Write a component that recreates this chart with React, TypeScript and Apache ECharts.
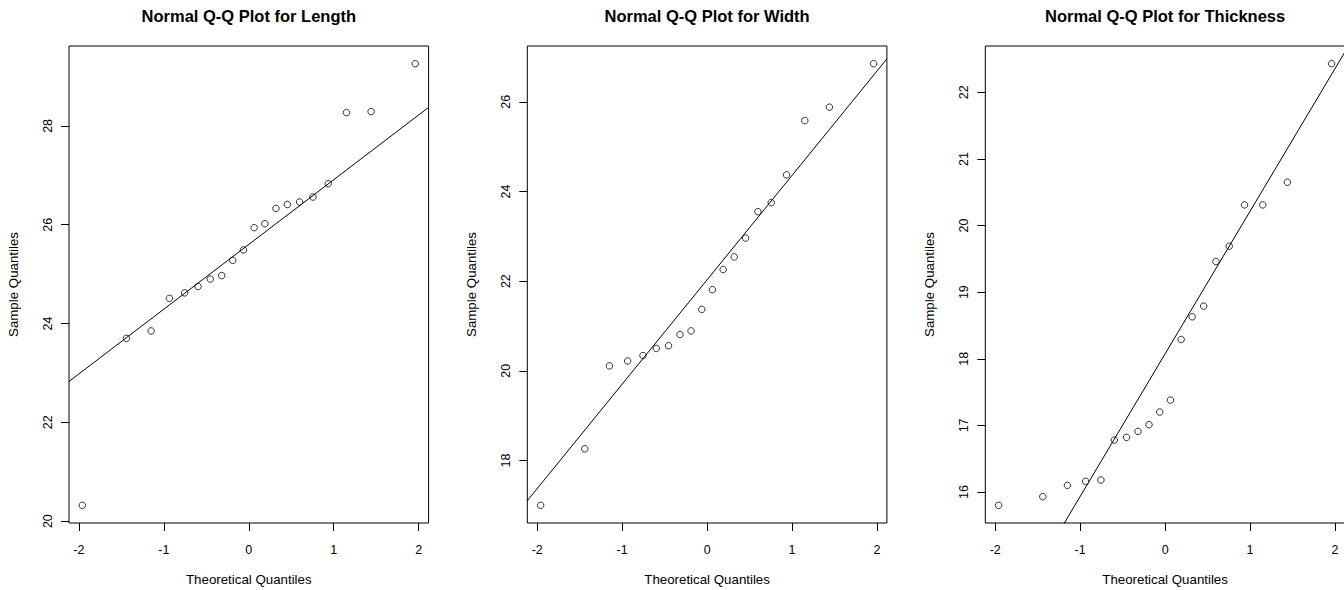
import React, { useEffect, useRef } from "react";
import * as echarts from "echarts";

// Theoretical normal quantiles (x positions of the points), shared by the three panels
const theoretical = [
  -1.96, -1.44, -1.15, -0.935, -0.755, -0.598, -0.454, -0.319, -0.189, -0.063,
  0.063, 0.189, 0.319, 0.454, 0.598, 0.755, 0.935, 1.15, 1.44, 1.96,
];

// Sorted sample values
const lengthValues = [
  20.32, 23.7, 23.85, 24.51, 24.62, 24.75, 24.9, 24.97, 25.28, 25.49,
  25.94, 26.02, 26.33, 26.41, 26.46, 26.56, 26.83, 28.27, 28.29, 29.26,
];
const widthValues = [
  17.0, 18.26, 20.11, 20.22, 20.34, 20.5, 20.56, 20.81, 20.89, 21.37,
  21.81, 22.26, 22.54, 22.96, 23.55, 23.75, 24.37, 25.58, 25.88, 26.85,
];
const thicknessValues = [
  15.8, 15.93, 16.1, 16.16, 16.18, 16.78, 16.82, 16.91, 17.01, 17.2,
  17.38, 18.29, 18.63, 18.79, 19.46, 19.69, 20.31, 20.31, 20.65, 22.43,
];

const titles = [
  "Normal Q-Q Plot for Length",
  "Normal Q-Q Plot for Width",
  "Normal Q-Q Plot for Thickness",
];
const xTicks = [-2, -1, 0, 1, 2];
const lengthTicks = [20, 22, 24, 26, 28];
const widthTicks = [18, 20, 22, 24, 26];
const thicknessTicks = [16, 17, 18, 19, 20, 21, 22];

const FONT = "'Liberation Sans', Arial, sans-serif";

function quantile7(sorted: number[], p: number) {
  const h = (sorted.length - 1) * p;
  const lo = Math.floor(h);
  const hi = Math.min(lo + 1, sorted.length - 1);
  return sorted[lo] + (h - lo) * (sorted[hi] - sorted[lo]);
}

export default function App() {
  const ref = useRef<HTMLDivElement>(null);

  useEffect(() => {
    if (!ref.current) return;
    const chart = echarts.init(ref.current, undefined, { renderer: "svg" });

    const panels = [
      { values: lengthValues, ticks: lengthTicks },
      { values: widthValues, ticks: widthTicks },
      { values: thicknessValues, ticks: thicknessTicks },
    ];
    const lefts = [69, 527.3, 985.3];
    const gridW = 359.6;
    const gridTop = 46;
    const gridH = 477;

    const xr = theoretical[theoretical.length - 1] - theoretical[0];
    const xMin = theoretical[0] - 0.04 * xr;
    const xMax = theoretical[theoretical.length - 1] + 0.04 * xr;
    const qz = 0.6744898;

    const grids: any[] = [];
    const xAxes: any[] = [];
    const yAxes: any[] = [];
    const series: any[] = [];
    const graphics: any[] = [];

    panels.forEach((p, i) => {
      const vals = p.values;
      const yr = vals[vals.length - 1] - vals[0];
      const yMin = vals[0] - 0.04 * yr;
      const yMax = vals[vals.length - 1] + 0.04 * yr;
      const q1 = quantile7(vals, 0.25);
      const q3 = quantile7(vals, 0.75);
      const slope = (q3 - q1) / (2 * qz);
      const intercept = q1 + slope * qz;

      grids.push({
        left: lefts[i],
        top: gridTop,
        width: gridW,
        height: gridH,
        containLabel: false,
        outerBoundsMode: "none",
        show: true,
        borderColor: "#000",
        borderWidth: 1,
        backgroundColor: "#fff",
      });
      xAxes.push({
        type: "value",
        gridIndex: i,
        min: xMin,
        max: xMax,
        axisLine: { show: false, onZero: false },
        splitLine: { show: false },
        axisTick: {
          show: true,
          inside: false,
          length: 8,
          lineStyle: { color: "#000", width: 1 },
          customValues: xTicks,
        },
        axisLabel: {
          show: true,
          margin: 20,
          color: "#000",
          fontSize: 12.5,
          fontFamily: FONT,
          customValues: xTicks,
          formatter: (v: number) => String(v),
        },
        name: "Theoretical Quantiles",
        nameLocation: "middle",
        nameGap: 50,
        nameTextStyle: { color: "#000", fontSize: 13.3, fontFamily: FONT },
      });
      yAxes.push({
        type: "value",
        gridIndex: i,
        min: yMin,
        max: yMax,
        axisLine: { show: false, onZero: false },
        splitLine: { show: false },
        axisTick: {
          show: true,
          inside: false,
          length: 8,
          lineStyle: { color: "#000", width: 1 },
          customValues: p.ticks,
        },
        axisLabel: {
          show: true,
          rotate: 90,
          margin: 15,
          color: "#000",
          fontSize: 12.5,
          fontFamily: FONT,
          customValues: p.ticks,
          formatter: (v: number) => String(v),
        },
        name: "Sample Quantiles",
        nameLocation: "middle",
        nameRotate: 90,
        nameGap: 49,
        nameTextStyle: { color: "#000", fontSize: 13.3, fontFamily: FONT },
      });
      series.push({
        type: "scatter",
        xAxisIndex: i,
        yAxisIndex: i,
        symbol: "circle",
        symbolSize: 6.5,
        itemStyle: { color: "rgba(0,0,0,0)", borderColor: "#000", borderWidth: 1 },
        data: theoretical.map((x, k) => [x, vals[k]]),
        silent: true,
      });
      series.push({
        type: "line",
        xAxisIndex: i,
        yAxisIndex: i,
        showSymbol: false,
        symbol: "none",
        clip: true,
        lineStyle: { color: "#000", width: 1 },
        data: [
          [xMin, intercept + slope * xMin],
          [xMax, intercept + slope * xMax],
        ],
        silent: true,
      });
      graphics.push({
        type: "text",
        x: lefts[i] + gridW / 2,
        y: 16,
        style: {
          text: titles[i],
          textAlign: "center",
          textVerticalAlign: "middle",
          fill: "#000",
          font: `bold 16.5px ${FONT}`,
        },
      });
    });

    chart.setOption({
      animation: false,
      backgroundColor: "#fff",
      grid: grids,
      xAxis: xAxes,
      yAxis: yAxes,
      series,
      graphic: graphics,
    });

    return () => chart.dispose();
  }, []);

  return (
    <div
      ref={ref}
      style={{ position: "fixed", left: 0, top: 0, width: 1344, height: 590 }}
    />
  );
}
